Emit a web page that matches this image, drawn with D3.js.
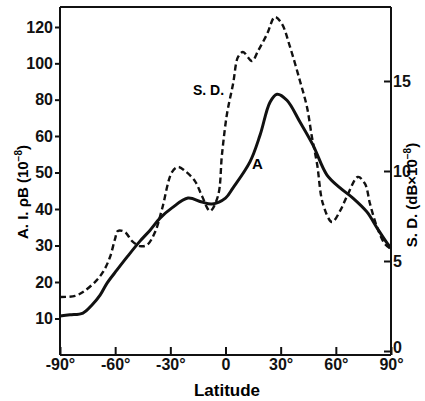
<!DOCTYPE html>
<html>
<head>
<meta charset="utf-8">
<script src="https://cdn.jsdelivr.net/npm/d3@7.9.0/dist/d3.min.js"></script>
<style>
  body { margin: 0; background: #fff; }
  svg { display: block; font-family: "Liberation Sans", Arial, sans-serif; font-weight: bold; }
  .tick text { font-size: 16px; fill: #111; }
  .tick line, .domain { stroke: #111; stroke-width: 2; }
</style>
</head>
<body>
<svg width="425" height="401"></svg>
<script>
// latitude (deg) and A.I. values for curve A (left axis)
const latA = [-90, -84.6, -77.5, -72.6, -68.2, -64.4, -59, -53.6, -46.5, -41, -35.6, -29.1, -20.4, -12.8, -7.3, 0, 4.1, 13.3, 18.8, 24.2, 28, 33.4, 40.5, 47.6, 55.2, 62.3, 69.3, 76.9, 82.4, 87.8, 90];
const valA = [10.7, 11.0, 11.5, 13.7, 16.4, 19.7, 23.3, 26.8, 31.2, 34.2, 37.5, 40.3, 43.0, 41.9, 41.4, 43.0, 45.8, 52.9, 60.5, 78.6, 83, 79.7, 67.7, 57.5, 49.3, 45.8, 43, 39.2, 34.8, 30.7, 29.3];

// latitude (deg) and S.D. values (right axis)
const latSD = [-90, -81.8, -77.5, -71, -66.6, -62.8, -60.1, -58.5, -54.7, -50.8, -46.5, -42.7, -38.3, -34.5, -29.1, -25.8, -22, -16.6, -12.8, -8.4, -4.1, -1.9, 0.8, 4.1, 6.8, 9.5, 14.4, 17.7, 22.6, 26.9, 30.7, 35.1, 40.5, 44.3, 47, 49.8, 53, 57.9, 62.3, 66.6, 72, 75.9, 78.6, 82.4, 86.7, 90];
const valSD = [3.0, 3.06, 3.28, 3.83, 4.39, 5.22, 6.22, 6.67, 6.61, 6.11, 5.83, 5.89, 6.61, 7.89, 9.94, 10.22, 10.0, 9.44, 8.61, 7.78, 8.61, 10.94, 13.17, 14.83, 16.33, 16.61, 16.11, 16.67, 17.61, 18.56, 18.17, 16.89, 15.0, 13.56, 11.89, 10.39, 8.17, 7.17, 7.78, 8.72, 9.67, 9.28, 8.17, 6.89, 5.94, 5.67];

const latTicks = [-90, -60, -30, 0, 30, 60, 90];
const leftTicks = [10, 20, 30, 40, 50, 60, 80, 100, 120];
const rightTicks = [0, 5, 10, 15];

const svg = d3.select('svg');
const m = { left: 60, right: 391, top: 7, bottom: 355 };

let x = d3.scaleLinear().domain([-90, 90]).range([m.left, m.right]);
// left axis changes step above 60
let yA = d3.scaleLinear().domain([0, 60, 120]).range([m.bottom, 136, 27]);
let yS = d3.scaleLinear().domain([0, 15]).range([351, 81]);

// frame top
svg.append('line')
  .attr('x1', m.left).attr('x2', m.right).attr('y1', m.top).attr('y2', m.top)
  .attr('stroke', '#111').attr('stroke-width', 2);

svg.append('g')
  .attr('transform', `translate(0,${m.bottom})`)
  .call(d3.axisBottom(x).tickValues(latTicks).tickSizeInner(-8).tickSizeOuter(0).tickPadding(4)
    .tickFormat(d => d === 0 ? '0' : (d < 0 ? '-' : '') + Math.abs(d) + '°'))
  .call(g => g.select('.domain').attr('d', `M${m.left},0H${m.right}`));

svg.append('g')
  .attr('transform', `translate(${m.left},0)`)
  .call(d3.axisLeft(yA).tickValues(leftTicks).tickSizeInner(5).tickSizeOuter(0).tickPadding(2))
  .call(g => g.select('.domain').attr('d', `M0,${m.top}V${m.bottom}`));

svg.append('g')
  .attr('transform', `translate(${m.right},0)`)
  .call(d3.axisRight(yS).tickValues(rightTicks).tickSizeInner(-7).tickSizeOuter(0).tickPadding(2))
  .call(g => g.select('.domain').attr('d', `M0,${m.top}V${m.bottom}`))
  .call(g => g.selectAll('.tick').filter(d => d === 0).select('text').attr('y', -4));

// curves
let lineA = d3.line().x((d, i) => x(latA[i])).y(d => yA(d)).curve(d3.curveCatmullRom);
let lineS = d3.line().x((d, i) => x(latSD[i])).y(d => yS(d)).curve(d3.curveCatmullRom);

svg.append('path').attr('d', lineA(valA))
  .attr('fill', 'none').attr('stroke', '#111').attr('stroke-width', 3);
svg.append('path').attr('d', lineS(valSD))
  .attr('fill', 'none').attr('stroke', '#111').attr('stroke-width', 2.4)
  .attr('stroke-dasharray', '6,3.5');

// labels
svg.append('text').attr('x', 193).attr('y', 95).attr('font-size', 14).text('S. D.');
svg.append('text').attr('x', 252).attr('y', 169).attr('font-size', 15).text('A');

svg.append('text').attr('x', 227).attr('y', 396).attr('text-anchor', 'middle')
  .attr('font-size', 17).text('Latitude');

let yl = svg.append('text').attr('transform', 'translate(28,192) rotate(-90)')
  .attr('text-anchor', 'middle').attr('font-size', 15);
yl.append('tspan').text('A. I. ρB (10');
yl.append('tspan').attr('font-size', 10).attr('dy', -6).text('−8');
yl.append('tspan').attr('dy', 6).text(')');

let yr = svg.append('text').attr('transform', 'translate(417,195) rotate(-90)')
  .attr('text-anchor', 'middle').attr('font-size', 15);
yr.append('tspan').text('S. D. (dB×10');
yr.append('tspan').attr('font-size', 10).attr('dy', -6).text('−8');
yr.append('tspan').attr('dy', 6).text(')');
</script>
</body>
</html>
